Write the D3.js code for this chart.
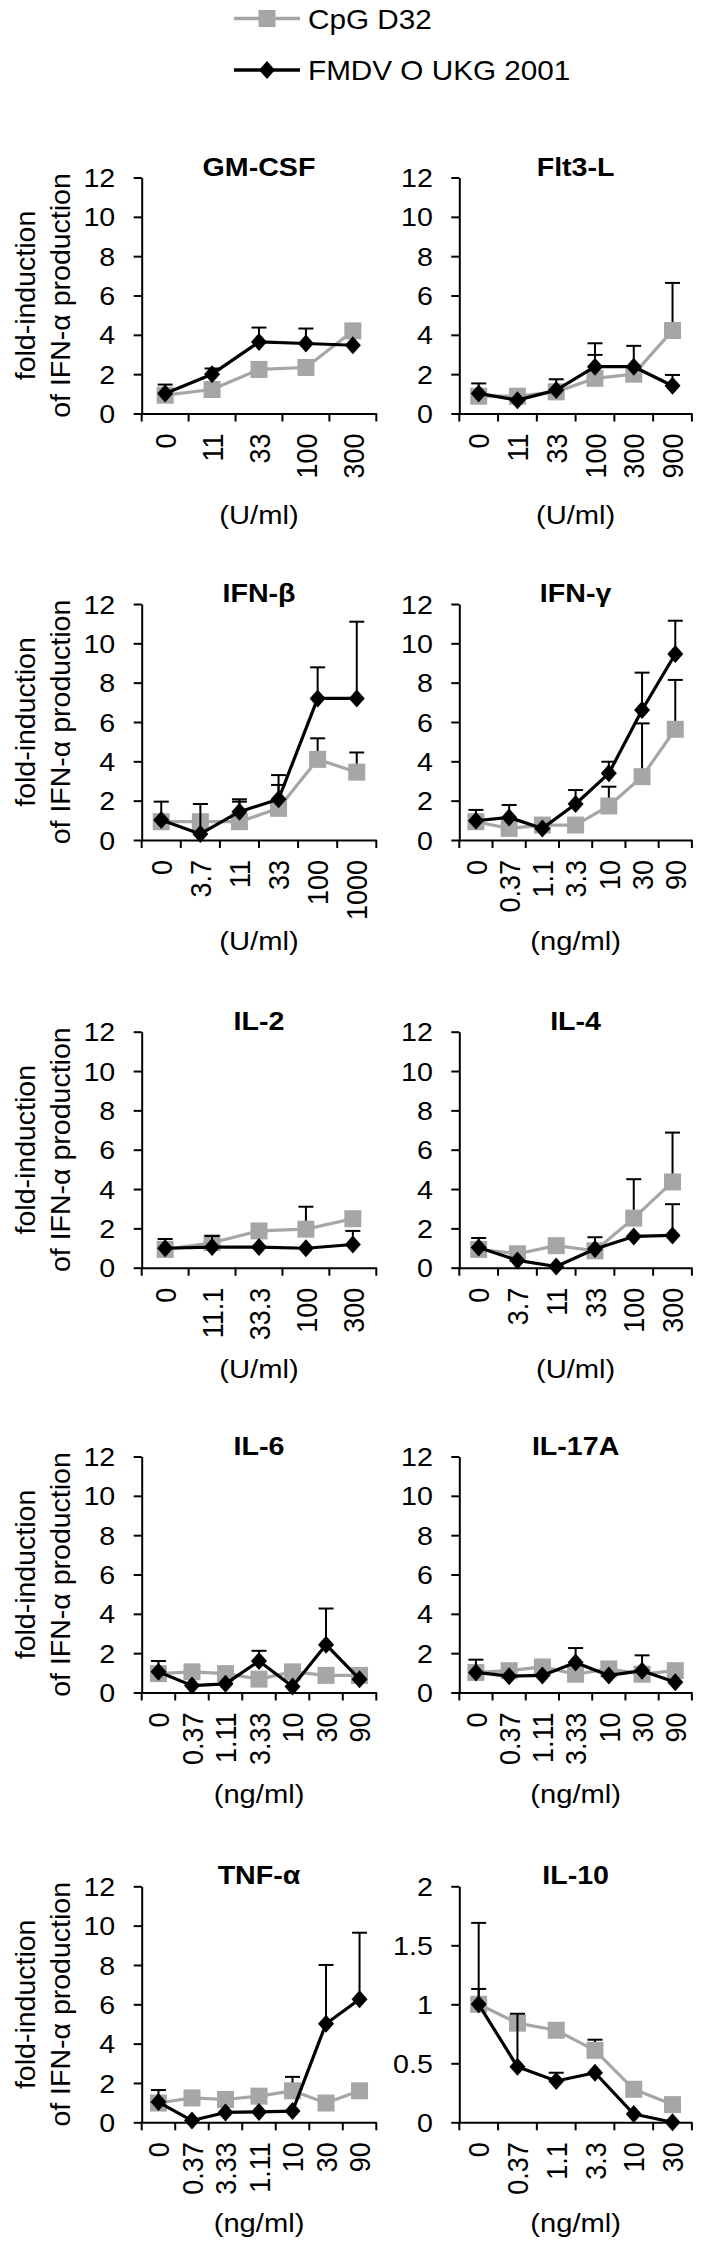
<!DOCTYPE html>
<html><head><meta charset="utf-8">
<script src="https://cdn.jsdelivr.net/npm/d3@7"></script>
<style>body{margin:0;background:#fff} svg{display:block}</style>
</head><body>
<svg id="c" width="702" height="2248"></svg>
<script>
const seriesNames = ["CpG D32", "FMDV O UKG 2001"];
const panelTitles = ["GM-CSF","Flt3-L","IFN-β","IFN-γ","IL-2","IL-4","IL-6","IL-17A","TNF-α","IL-10"];
const panelUnits = ["(U/ml)","(U/ml)","(U/ml)","(ng/ml)","(U/ml)","(U/ml)","(ng/ml)","(ng/ml)","(ng/ml)","(ng/ml)"];
const yTicks12 = [0,2,4,6,8,10,12];
const yTicks2 = [0,0.5,1,1.5,2];
const yLabelLines = ["fold-induction","of IFN-α production"];

const gmcsfDoses = ["0","11","33","100","300"];
const gmcsfCpg = [0.93,1.22,2.24,2.34,4.2];
const gmcsfCpgErr = [null,null,null,null,null];
const gmcsfFmdv = [1.02,2.0,3.64,3.56,3.47];
const gmcsfFmdvErr = [0.45,0.29,0.73,0.76,null];

const flt3Doses = ["0","11","33","100","300","900"];
const flt3Cpg = [0.88,0.88,1.1,1.79,2.0,4.22];
const flt3CpgErr = [null,null,null,1.19,null,2.42];
const flt3Fmdv = [1.02,0.68,1.19,2.38,2.38,1.41];
const flt3FmdvErr = [0.51,null,0.55,1.19,1.06,0.55];

const ifnbDoses = ["0","3.7","11","33","100","1000"];
const ifnbCpg = [0.93,0.93,0.93,1.61,4.1,3.45];
const ifnbCpgErr = [null,null,1.02,1.19,1.07,1.0];
const ifnbFmdv = [1.02,0.31,1.44,2.07,7.2,7.2];
const ifnbFmdvErr = [0.93,1.52,0.63,1.23,1.58,3.9];

const ifngDoses = ["0","0.37","1.1","3.3","10","30","90"];
const ifngCpg = [0.93,0.59,0.76,0.76,1.73,3.22,5.63];
const ifngCpgErr = [null,null,null,null,0.98,2.71,2.51];
const ifngFmdv = [0.98,1.15,0.59,1.83,3.39,6.61,9.46];
const ifngFmdvErr = [0.55,0.63,null,0.71,0.59,1.9,1.69];

const il2Doses = ["0","11.1","33.3","100","300"];
const il2Cpg = [0.93,1.27,1.87,1.96,2.49];
const il2CpgErr = [null,null,null,1.14,null];
const il2Fmdv = [0.99,1.05,1.05,0.99,1.18];
const il2FmdvErr = [0.47,0.56,null,null,0.69];

const il4Doses = ["0","3.7","11","33","100","300"];
const il4Cpg = [0.93,0.71,1.12,0.86,2.52,4.36];
const il4CpgErr = [null,null,null,null,1.98,2.51];
const il4Fmdv = [1.03,0.37,0.06,0.95,1.59,1.64];
const il4FmdvErr = [0.48,null,null,0.6,null,1.59];

const il6Doses = ["0","0.37","1.11","3.33","10","30","90"];
const il6Cpg = [0.96,1.05,0.96,0.68,1.05,0.87,0.87];
const il6CpgErr = [null,null,null,null,null,null,null];
const il6Fmdv = [1.05,0.35,0.44,1.6,0.31,2.43,0.68];
const il6FmdvErr = [0.55,null,null,0.52,null,1.84,null];

const il17Doses = ["0","0.37","1.11","3.33","10","30","90"];
const il17Cpg = [1.02,1.11,1.3,0.93,1.2,0.93,1.11];
const il17CpgErr = [null,null,null,null,null,null,null];
const il17Fmdv = [1.02,0.83,0.87,1.52,0.87,1.11,0.52];
const il17FmdvErr = [0.65,null,null,0.74,null,0.78,null];

const tnfDoses = ["0","0.37","3.33","1.11","10","30","90"];
const tnfCpg = [0.98,1.24,1.16,1.33,1.6,0.98,1.6];
const tnfCpgErr = [null,null,null,null,0.71,null,null];
const tnfFmdv = [1.03,0.09,0.5,0.53,0.57,5.01,6.26];
const tnfFmdvErr = [0.61,null,null,null,null,2.99,3.38];

const il10Doses = ["0","0.37","1.1","3.3","10","30"];
const il10Cpg = [1.0,0.84,0.78,0.61,0.28,0.15];
const il10CpgErr = [0.13,null,null,0.09,null,null];
const il10Fmdv = [1.0,0.47,0.35,0.42,0.07,0.0];
const il10FmdvErr = [0.69,0.45,0.07,null,null,null];

const panelDoses = [gmcsfDoses,flt3Doses,ifnbDoses,ifngDoses,il2Doses,il4Doses,il6Doses,il17Doses,tnfDoses,il10Doses];
const panelCpg = [gmcsfCpg,flt3Cpg,ifnbCpg,ifngCpg,il2Cpg,il4Cpg,il6Cpg,il17Cpg,tnfCpg,il10Cpg];
const panelCpgErr = [gmcsfCpgErr,flt3CpgErr,ifnbCpgErr,ifngCpgErr,il2CpgErr,il4CpgErr,il6CpgErr,il17CpgErr,tnfCpgErr,il10CpgErr];
const panelFmdv = [gmcsfFmdv,flt3Fmdv,ifnbFmdv,ifngFmdv,il2Fmdv,il4Fmdv,il6Fmdv,il17Fmdv,tnfFmdv,il10Fmdv];
const panelFmdvErr = [gmcsfFmdvErr,flt3FmdvErr,ifnbFmdvErr,ifngFmdvErr,il2FmdvErr,il4FmdvErr,il6FmdvErr,il17FmdvErr,tnfFmdvErr,il10FmdvErr];

const FONT = "Arial, 'Liberation Sans', sans-serif";
const GRAY = "#a6a6a6";
const SX = 1.1;  // horizontal stretch seen in the reference lettering
const svg = d3.select("#c");
const colX = [141.7, 459.3];
const colW = [234.6, 232.6];
const rowTop = [177.5, 604, 1031.7, 1456.5, 1886.3];
const plotH = 236;
const diamond = "M0,-9L8,0L0,9L-8,0Z";

// legend
const leg = svg.append("g").attr("font-family", FONT).attr("font-size", 27);
[{y:18.5, name:seriesNames[0], color:GRAY, mark:"sq"},{y:70, name:seriesNames[1], color:"#000", mark:"dia"}].forEach(l => {
  leg.append("line").attr("x1",234).attr("x2",300).attr("y1",l.y).attr("y2",l.y)
    .attr("stroke",l.color).attr("stroke-width",3.5);
  if (l.mark === "sq") leg.append("rect").attr("x",267-8.5).attr("y",l.y-8.5).attr("width",17).attr("height",17).attr("fill",l.color);
  else leg.append("path").attr("d",diamond).attr("transform",`translate(267,${l.y})`).attr("fill",l.color);
  leg.append("text").attr("transform",`translate(308,${l.y+10}) scale(${SX},1)`).text(l.name);
});

panelTitles.forEach((title, i) => {
  const r = Math.floor(i/2), c = i % 2;
  const doses = panelDoses[i];
  const yMax = title === "IL-10" ? 2 : 12;
  const ticks = title === "IL-10" ? yTicks2 : yTicks12;
  const W = colW[c];
  const g = svg.append("g").attr("transform", `translate(${colX[c]},${rowTop[r]})`)
    .attr("font-family", FONT);
  const x = d3.scaleBand().domain(doses).range([0, W]).padding(0);
  const y = d3.scaleLinear().domain([0, yMax]).range([plotH, 0]);
  const cx = d => x(d) + x.bandwidth()/2;

  // y axis
  const ya = g.append("g").call(d3.axisLeft(y).tickValues(ticks).tickSize(8).tickSizeOuter(0).tickPadding(18.5).tickFormat(d => String(d)));
  ya.selectAll("path,line").attr("stroke","#000").attr("stroke-width",2);
  ya.selectAll("text").attr("font-size",26).attr("font-family",FONT).attr("fill","#000")
    .attr("x",0).attr("dy","0.35em").attr("transform",`translate(-26.5,0) scale(${SX},1)`);

  // x axis
  const xa = g.append("g").attr("transform",`translate(0,${plotH})`)
    .call(d3.axisBottom(x).tickSize(0).tickSizeOuter(0));
  xa.select(".domain").attr("stroke","#000").attr("stroke-width",2);
  xa.selectAll("text").attr("font-size",27).attr("font-family",FONT).attr("fill","#000")
    .attr("transform",`scale(${SX},1) rotate(-90)`).attr("text-anchor","end")
    .attr("x",-20).attr("y",0).attr("dy","0.36em");
  g.selectAll(".xb").data(d3.range(doses.length + 1)).join("line")
    .attr("x1", k => k * x.step()).attr("x2", k => k * x.step())
    .attr("y1", plotH).attr("y2", plotH + 8).attr("stroke","#000").attr("stroke-width",2);

  // title & unit
  g.append("text").attr("transform",`translate(${W/2},-2) scale(${SX},1)`).attr("text-anchor","middle")
    .attr("font-weight","bold").attr("font-size",26).text(title);
  g.append("text").attr("transform",`translate(${W/2},${plotH + 110}) scale(${SX},1)`).attr("text-anchor","middle")
    .attr("font-size",26.5).text(panelUnits[i]);

  // y label (left column)
  if (c === 0) {
    [35, 70].forEach((bx, k) => {
      svg.append("text").attr("font-family",FONT).attr("font-size",28.5).attr("text-anchor","middle")
        .attr("transform",`translate(${bx},${rowTop[r] + plotH/2}) rotate(-90)`).text(yLabelLines[k]);
    });
  }

  const drawSeries = (vals, errs, color, mark) => {
    const pts = doses.map((d, k) => ({d, v: vals[k], e: errs[k]}));
    g.append("path").datum(pts).attr("fill","none").attr("stroke",color).attr("stroke-width",3.2)
      .attr("stroke-linejoin","round")
      .attr("d", d3.line().x(p => cx(p.d)).y(p => y(p.v)));
    const eb = pts.filter(p => p.e != null);
    g.selectAll(null).data(eb).join("line")
      .attr("x1", p => cx(p.d)).attr("x2", p => cx(p.d))
      .attr("y1", p => y(p.v)).attr("y2", p => y(p.v + p.e))
      .attr("stroke","#000").attr("stroke-width",2);
    g.selectAll(null).data(eb).join("line")
      .attr("x1", p => cx(p.d) - 7.5).attr("x2", p => cx(p.d) + 7.5)
      .attr("y1", p => y(p.v + p.e)).attr("y2", p => y(p.v + p.e))
      .attr("stroke","#000").attr("stroke-width",2);
    if (mark === "sq") {
      g.selectAll(null).data(pts).join("rect")
        .attr("x", p => cx(p.d) - 8.5).attr("y", p => y(p.v) - 8.5)
        .attr("width",17).attr("height",17).attr("fill",color);
    } else {
      g.selectAll(null).data(pts).join("path").attr("d", diamond)
        .attr("transform", p => `translate(${cx(p.d)},${y(p.v)})`).attr("fill",color);
    }
  };
  drawSeries(panelCpg[i], panelCpgErr[i], GRAY, "sq");
  drawSeries(panelFmdv[i], panelFmdvErr[i], "#000", "dia");
});
</script>
</body></html>
